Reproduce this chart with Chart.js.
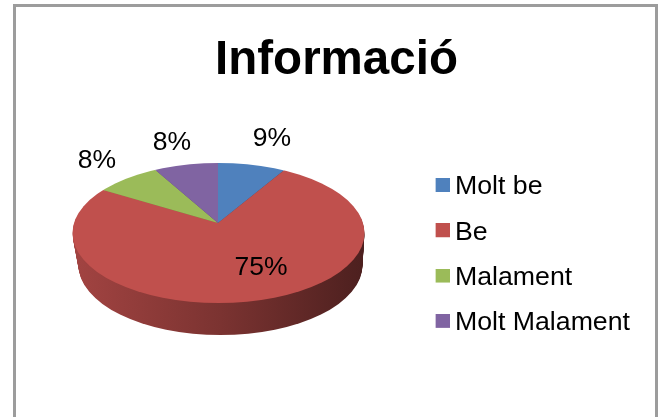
<!DOCTYPE html>
<html>
<head>
<meta charset="utf-8">
<style>html,body{margin:0;padding:0;background:#fff}canvas{display:block}</style>
<script src="https://cdn.jsdelivr.net/npm/chart.js@4"></script>
</head>
<body>
<canvas id="c" width="665" height="417"></canvas>
<script>
const titleText = "Informació";
const categories = ["Molt be", "Be", "Malament", "Molt Malament"];
const values = [8.6, 75, 8.2, 8.2];
const colors = ["#4F81BD", "#C0504D", "#9BBB59", "#8064A2"];
const FONT = "'Liberation Sans', Arial, sans-serif";

// Layout of the tilted pie
const apex = {x: 218, y: 223};
const topFace = {x: 218.5, y: 233, rx: 146, ry: 70};
const bottomFace = {x: 220.5, y: 265, rx: 142, ry: 70};
const tilt = topFace.ry / topFace.rx;
const labelPos = [{x: 272, y: 139}, {x: 261, y: 268}, {x: 97, y: 161}, {x: 172, y: 143}];
const legendPos = {left: 423, top: 155};

function shade(hex, f) {
  const n = parseInt(hex.slice(1), 16);
  return "rgb(" + [(n >> 16) & 255, (n >> 8) & 255, n & 255].map(v => Math.round(v * f)).join(",") + ")";
}
function swatch(color) {
  const cv = document.createElement("canvas");
  cv.width = 16; cv.height = 18;
  const g = cv.getContext("2d");
  g.fillStyle = color;
  g.fillRect(2, 0, 14, 14);
  return cv;
}
function place(ctx, arc, dx, dy) {
  ctx.translate(apex.x + dx, apex.y + dy);
  ctx.scale(1, tilt);
  ctx.translate(-arc.x, -arc.y);
}
const pie3d = {
  id: "pie3d",
  beforeDraw(chart) {
    const ctx = chart.ctx;
    ctx.save();
    ctx.strokeStyle = "#9c9c9c";
    ctx.lineWidth = 3;
    ctx.beginPath();
    ctx.moveTo(14.5, 417);
    ctx.lineTo(14.5, 5.5);
    ctx.lineTo(656.5, 5.5);
    ctx.lineTo(656.5, 417);
    ctx.stroke();
    ctx.restore();
  },
  afterLayout(chart) {
    const lg = chart.legend;
    const w = lg.right - lg.left, h = 400;
    lg.left = legendPos.left; lg.right = legendPos.left + w + 20;
    lg.top = legendPos.top; lg.bottom = legendPos.top + h;
    lg.width = lg.right - lg.left; lg.height = h;
    const t = chart.titleBlock;
    t.left += 4; t.right += 4;
  },
  beforeDatasetsDraw(chart) {
    const ctx = chart.ctx;
    const arcs = chart.getDatasetMeta(0).data;
    const depth = bottomFace.y - topFace.y;
    for (let d = depth; d >= 1; d--) {
      const f = d / depth;
      const cx = topFace.x + (bottomFace.x - topFace.x) * f;
      const rx = topFace.rx + (bottomFace.rx - topFace.rx) * f;
      arcs.forEach((arc, i) => {
        ctx.save();
        ctx.beginPath();
        ctx.ellipse(cx, topFace.y + d, rx, topFace.ry, 0, 0, Math.PI * 2);
        ctx.clip();
        place(ctx, arc, 0, d);
        const gx = arc.x - apex.x;
        const grad = ctx.createLinearGradient(gx + bottomFace.x - bottomFace.rx, 0, gx + bottomFace.x + bottomFace.rx, 0);
        grad.addColorStop(0, shade(colors[i], 0.84));
        grad.addColorStop(0.5, shade(colors[i], 0.64));
        grad.addColorStop(1, shade(colors[i], 0.40));
        const saved = arc.options;
        const o = Object.create(saved);
        o.backgroundColor = grad;
        arc.options = o;
        arc.draw(ctx);
        arc.options = saved;
        ctx.restore();
      });
    }
  },
  beforeDatasetDraw(chart) {
    const ctx = chart.ctx;
    ctx.save();
    ctx.beginPath();
    ctx.ellipse(topFace.x, topFace.y, topFace.rx, topFace.ry, 0, 0, Math.PI * 2);
    ctx.clip();
    place(ctx, chart.getDatasetMeta(0).data[0], 0, 0);
  },
  afterDatasetDraw(chart) { chart.ctx.restore(); },
  afterDatasetsDraw(chart) {
    const ctx = chart.ctx;
    const total = values.reduce((a, b) => a + b, 0);
    ctx.save();
    ctx.fillStyle = "#000";
    ctx.font = "26.5px " + FONT;
    ctx.textAlign = "center";
    ctx.textBaseline = "middle";
    values.forEach((v, i) => {
      ctx.fillText(Math.round(v / total * 100) + "%", labelPos[i].x, labelPos[i].y);
    });
    ctx.restore();
  }
};
new Chart(document.getElementById("c"), {
  type: "pie",
  data: {
    labels: categories,
    datasets: [{data: values, backgroundColor: colors, borderWidth: 0, radius: 175, clip: false}]
  },
  options: {
    responsive: false,
    animation: false,
    events: [],
    plugins: {
      tooltip: {enabled: false},
      title: {
        display: true,
        text: titleText,
        color: "#000",
        font: {family: FONT, size: 47.5, weight: "bold"},
        padding: {top: 32, bottom: 10}
      },
      legend: {
        display: true,
        position: "right",
        align: "start",
        labels: {
          color: "#000",
          font: {family: FONT, size: 26.7},
          usePointStyle: true,
          boxWidth: 0.01,
          padding: 18.6,
          generateLabels: () => categories.map((c, i) => ({
            text: c, pointStyle: swatch(colors[i]), fillStyle: colors[i], strokeStyle: colors[i], lineWidth: 0, index: i
          }))
        }
      }
    }
  },
  plugins: [pie3d]
});
</script>
</body>
</html>
